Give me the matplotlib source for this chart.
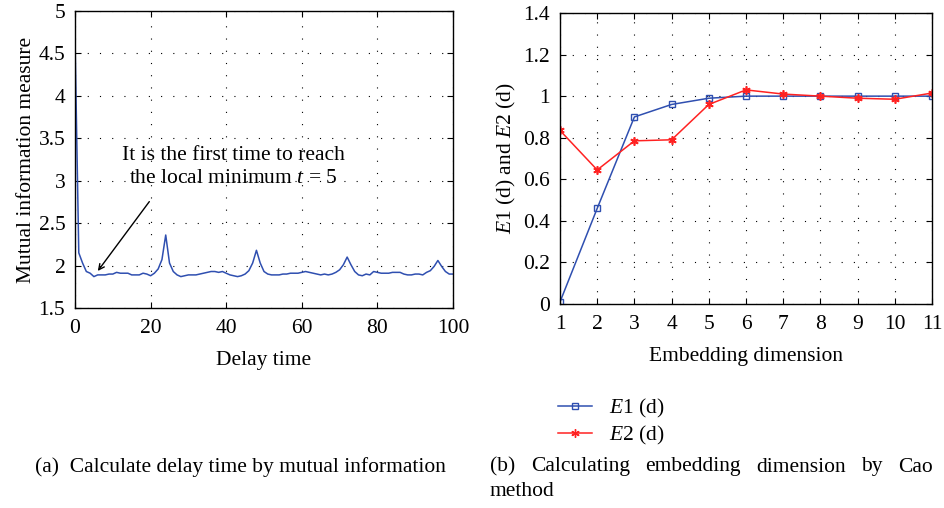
import matplotlib
matplotlib.use("Agg")
import matplotlib.pyplot as plt
from matplotlib.lines import Line2D

plt.rcParams['font.family'] = ['Liberation Serif', 'DejaVu Serif']
plt.rcParams['mathtext.fontset'] = 'custom'
plt.rcParams['mathtext.rm'] = 'Liberation Serif'
plt.rcParams['mathtext.it'] = 'Liberation Serif:italic'

# (a) mutual information vs delay time
delay = list(range(0, 101))
mutual_info = [
    4.67, 2.15, 2.03, 1.93, 1.91, 1.87, 1.89, 1.89, 1.89, 1.90,
    1.90, 1.92, 1.91, 1.91, 1.91, 1.89, 1.89, 1.89, 1.91, 1.90,
    1.88, 1.91, 1.96, 2.07, 2.36, 2.03, 1.93, 1.89, 1.87, 1.88,
    1.89, 1.89, 1.89, 1.90, 1.91, 1.92, 1.93, 1.93, 1.92, 1.93,
    1.91, 1.89, 1.88, 1.87, 1.88, 1.90, 1.94, 2.03, 2.18, 2.03,
    1.93, 1.90, 1.89, 1.89, 1.89, 1.90, 1.90, 1.91, 1.91, 1.91,
    1.92, 1.93, 1.92, 1.91, 1.90, 1.89, 1.90, 1.89, 1.90, 1.92,
    1.95, 2.01, 2.10, 2.01, 1.93, 1.89, 1.88, 1.90, 1.89, 1.93,
    1.92, 1.91, 1.91, 1.91, 1.92, 1.92, 1.92, 1.90, 1.89, 1.89,
    1.90, 1.90, 1.89, 1.92, 1.94, 1.99, 2.06, 1.99, 1.93, 1.90,
    1.90,
]

# (b) Cao method
dims = [1, 2, 3, 4, 5, 6, 7, 8, 9, 10, 11]
e1 = [0.01, 0.46, 0.90, 0.96, 0.99, 1.0, 1.0, 1.0, 1.0, 1.0, 1.0]
e2 = [0.835, 0.645, 0.785, 0.79, 0.96, 1.03, 1.01, 1.0, 0.99, 0.985, 1.015]

BLUE = '#2f4fb0'
RED = '#ff2222'
FS = 15.5
CAP = 15.5

fig = plt.figure(figsize=(9.45, 5.08), dpi=100)
ax1 = fig.add_axes([75/945, 200/508, 378/945, 297/508])
ax2 = fig.add_axes([560/945, 204/508, 372/945, 291/508])


def style(ax):
    ax.grid(True, color='black', linestyle=(0, (1, 10)), linewidth=0.8)
    ax.tick_params(direction='in', top=True, right=True, length=4,
                   labelsize=FS, width=0.8)
    ax.tick_params(axis='x', pad=8)
    ax.tick_params(axis='y', pad=7)
    for s in ax.spines.values():
        s.set_linewidth(1.0)


ax1.plot(delay, mutual_info, color=BLUE, lw=1.1)
ax1.set_xlim(0, 100)
ax1.set_ylim(1.5, 5)
ax1.set_xticks([0, 20, 40, 60, 80, 100])
ax1.set_yticks([1.5, 2, 2.5, 3, 3.5, 4, 4.5, 5])
ax1.set_yticklabels(['1.5', '2', '2.5', '3', '3.5', '4', '4.5', '5'])
style(ax1)
ax1.set_xlabel('Delay time', fontsize=FS, labelpad=9)
ax1.set_ylabel('Mutual information measure', fontsize=FS, labelpad=2)
ax1.annotate('', xy=(5.6, 1.91), xytext=(20.1, 2.78),
             arrowprops=dict(arrowstyle='->', color='black', lw=1.0))
ax1.text(41.8, 3.30, 'It is the first time to reach', fontsize=FS,
         ha='center', va='center')
ax1.text(41.8, 3.03, 'the local minimum $t$ = 5', fontsize=FS,
         ha='center', va='center')

ax2.plot(dims, e1, color=BLUE, lw=1.1, marker='s', ms=5,
         markerfacecolor='none', markeredgecolor=BLUE, markeredgewidth=1.0)
ax2.plot(dims, e2, color=RED, lw=1.1, marker=(6, 2, 0), ms=6,
         markeredgecolor=RED, markeredgewidth=1.2)
ax2.set_xlim(1, 11)
ax2.set_ylim(0, 1.4)
ax2.set_xticks(dims)
ax2.set_yticks([0, 0.2, 0.4, 0.6, 0.8, 1.0, 1.2, 1.4])
ax2.set_yticklabels(['0', '0.2', '0.4', '0.6', '0.8', '1', '1.2', '1.4'])
style(ax2)
ax2.set_xlabel('Embedding dimension', fontsize=FS, labelpad=9)
ax2.set_ylabel('$E$1 (d) and $E$2 (d)', fontsize=FS, labelpad=4)

handles = [
    Line2D([], [], color=BLUE, lw=1.1, marker='s', ms=5,
           markerfacecolor='none', markeredgecolor=BLUE),
    Line2D([], [], color=RED, lw=1.1, marker=(6, 2, 0), ms=6,
           markeredgecolor=RED),
]
fig.legend(handles, ['$E$1 (d)', '$E$2 (d)'], loc='upper left',
           bbox_to_anchor=(558/945, 1 - 397/508), frameon=False,
           fontsize=FS, handlelength=1.6, handletextpad=0.75,
           labelspacing=0.2, borderaxespad=0, borderpad=0)

# captions
fig.text(35/945, 1 - 467/508, '(a)  Calculate delay time by mutual information',
         fontsize=CAP, ha='left', va='center')

words = ['(b)', 'Calculating', 'embedding', 'dimension', 'by', 'Cao']
x_left, x_right = 490, 933
fig.canvas.draw()
r = fig.canvas.get_renderer()
objs = [fig.text(0, 1 - 467/508, w, fontsize=CAP, ha='left', va='center')
        for w in words]
widths = [o.get_window_extent(r).width for o in objs]
gap = (x_right - x_left - sum(widths)) / (len(words) - 1)
x = x_left
for o, w in zip(objs, widths):
    o.set_x(x / 945)
    x += w + gap
fig.text(x_left/945, 1 - 491/508, 'method', fontsize=CAP, ha='left', va='center')

fig.savefig('out.png', dpi=100)
